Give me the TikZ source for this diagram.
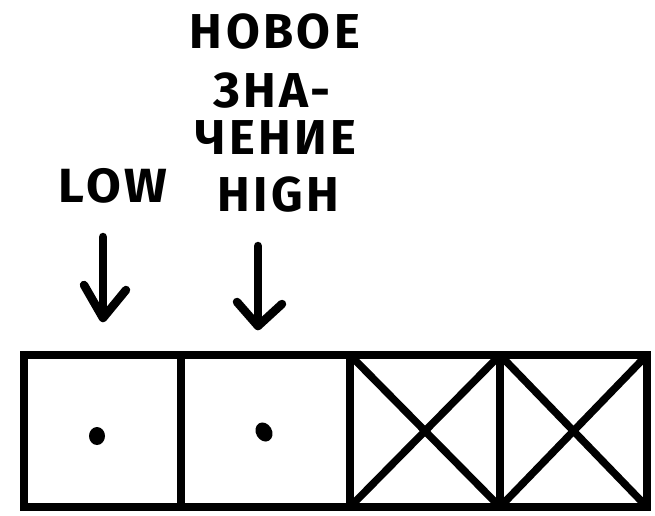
\documentclass[tikz,border=0pt]{standalone}
\usepackage{fontspec}
\setmainfont{Fira Sans}
\newfontfamily\handfont{Fira Sans}[UprightFont=* Bold,LetterSpace=7]
\begin{document}
\begin{tikzpicture}[x=1pt,y=-1pt,
  ink/.style={line width=8.5pt,line cap=round,line join=round},
  thin/.style={line width=7.5pt,line join=miter},
  bigtxt/.style={font=\handfont\fontsize{49}{49}\selectfont,inner sep=0pt,anchor=center},
  lowtxt/.style={font=\handfont\fontsize{48}{48}\selectfont,inner sep=0pt,anchor=center}]
\useasboundingbox (0,0) rectangle (655,515);
% labels
\node[bigtxt] (l1) at (275,32) {НОВОЕ};
\node[bigtxt] (l2) at (272,91) {ЗНА-};
\node[bigtxt] (l3) at (276,138) {ЧЕНИЕ};
\node[bigtxt] (l4) at (278,195) {HIGH};
\node[lowtxt] (low) at (113,186) {\scalebox{1.05}[1]{LOW}};
% arrows
\coordinate (a1s) at (103,237);
\coordinate (a1t) at (103,318);
\coordinate (a1l) at (84,285);
\coordinate (a1r) at (126,290);
\draw[ink] (a1s) -- (a1t);
\draw[ink] (a1l) -- (a1t) -- (a1r);
\coordinate (a2s) at (258,246);
\coordinate (a2t) at (258,326);
\coordinate (a2l) at (237,302);
\coordinate (a2r) at (282,304);
\draw[ink] (a2s) -- (a2t);
\draw[ink] (a2l) -- (a2t) -- (a2r);
% cells
\coordinate (c0t) at (24,355); \coordinate (c0b) at (24,507);
\coordinate (c1t) at (181,355); \coordinate (c1b) at (181,507);
\coordinate (c2t) at (350,355); \coordinate (c2b) at (350,507);
\coordinate (c3t) at (500,355); \coordinate (c3b) at (500,507);
\coordinate (c4t) at (647,355); \coordinate (c4b) at (647,507);
\draw[thin] (c0t) rectangle (c4b);
\draw[thin] (c1t) -- (c1b);
\draw[thin] (c2t) -- (c2b);
\draw[thin] (c3t) -- (c3b);
\draw[thin] (c2t) -- (c3b); \draw[thin] (c3t) -- (c2b);
\draw[thin] (c3t) -- (c4b); \draw[thin] (c4t) -- (c3b);
\fill (97,436) ellipse (8 and 9);
\fill[rotate around={30:(264,432)}] (264,432) ellipse (8 and 10);
\end{tikzpicture}
\end{document}
